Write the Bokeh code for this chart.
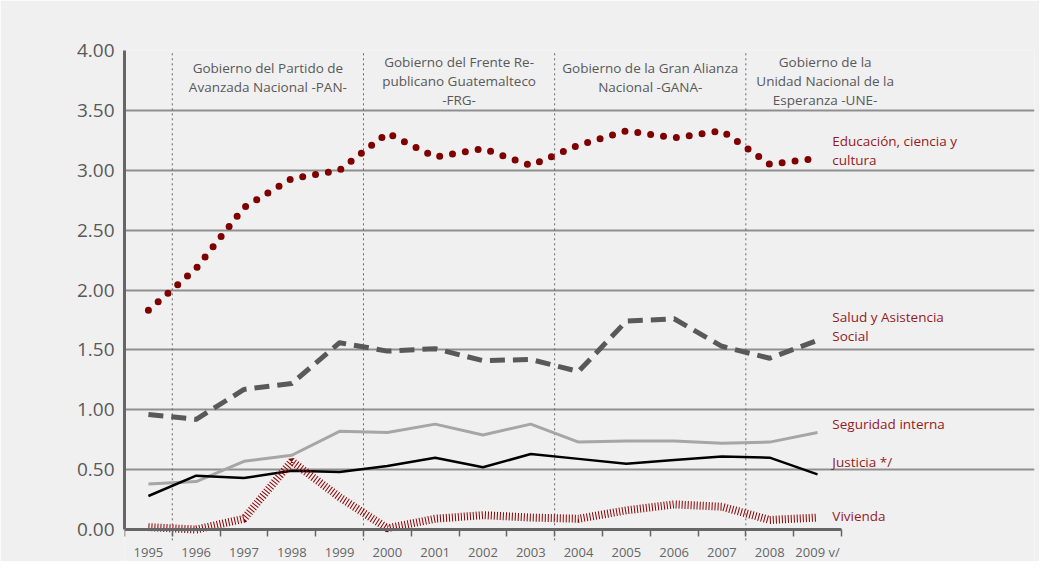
import numpy as np
from bokeh.plotting import figure
from bokeh.models import (Range1d, FixedTicker, NumeralTickFormatter, Label)
from bokeh.embed import file_html
from bokeh.resources import INLINE

# ---------------- data ----------------
years = ["1995", "1996", "1997", "1998", "1999", "2000", "2001", "2002",
         "2003", "2004", "2005", "2006", "2007", "2008", "2009 v/"]
educacion = [1.83, 2.18, 2.69, 2.93, 3.00, 3.31, 3.11, 3.18, 3.04, 3.21,
             3.33, 3.27, 3.33, 3.05, 3.10]
salud = [0.96, 0.92, 1.17, 1.22, 1.56, 1.49, 1.51, 1.41, 1.42, 1.32,
         1.74, 1.76, 1.53, 1.43, 1.58]
seguridad = [0.38, 0.40, 0.57, 0.62, 0.82, 0.81, 0.88, 0.79, 0.88, 0.73,
             0.74, 0.74, 0.72, 0.73, 0.81]
justicia = [0.28, 0.45, 0.43, 0.49, 0.48, 0.53, 0.60, 0.52, 0.63, 0.59,
            0.55, 0.58, 0.61, 0.60, 0.46]
vivienda = [0.02, 0.00, 0.09, 0.57, 0.27, 0.01, 0.09, 0.12, 0.10, 0.09,
            0.16, 0.21, 0.19, 0.08, 0.10]
y_ticks = [0.0, 0.5, 1.0, 1.5, 2.0, 2.5, 3.0, 3.5, 4.0]

# governments: first year of each period
gov_start = ["1996", "2000", "2004", "2008"]
gov_labels = [
    ["Gobierno del Partido de", "Avanzada Nacional -PAN-"],
    ["Gobierno del Frente Re-", "publicano Guatemalteco", "-FRG-"],
    ["Gobierno de la Gran Alianza", "Nacional -GANA-"],
    ["Gobierno de la", "Unidad Nacional de la", "Esperanza -UNE-"],
]
series_labels = [
    (["Educación, ciencia y", "cultura"], 3.165),
    (["Salud y Asistencia", "Social"], 1.695),
    (["Seguridad interna"], 0.88),
    (["Justicia */"], 0.56),
    (["Vivienda"], 0.11),
]

# ---------------- figure ----------------
BG = "#f0f0f0"
FONT = "Open Sans"
GRAY_TXT = "#595959"
RED_TXT = "#951b1e"

n = len(years)
xc = np.arange(n) + 0.5  # category centres
GRID_END = 16.32         # where the horizontal grid lines stop
X_END = 19.04            # right edge of the frame (room for labels)
Y_START = -0.267         # room below zero for the axis labels

p = figure(width=1039, height=561, output_backend="svg", toolbar_location=None,
           x_range=Range1d(0, X_END), y_range=Range1d(Y_START, 4.0),
           min_border_left=124, min_border_right=5, min_border_top=50,
           min_border_bottom=0)
p.background_fill_color = BG
p.border_fill_color = BG
p.outline_line_color = None

# grid
p.xgrid.visible = False
p.ygrid.ticker = FixedTicker(ticks=[t for t in y_ticks if t > 0])
p.ygrid.bounds = (0, GRID_END)
p.ygrid.grid_line_color = "#8f8f8f"
p.ygrid.grid_line_width = 2

# government separators (dotted, reaching slightly below the axis)
bounds_idx = [years.index(g) for g in gov_start]
p.segment(x0=bounds_idx, y0=[-0.09] * len(bounds_idx), x1=bounds_idx,
          y1=[4.0] * len(bounds_idx), line_color="#666666", line_width=1,
          line_dash="2 3")

# x axis
xa = p.xaxis[0]
xa.ticker = FixedTicker(ticks=list(xc), minor_ticks=list(range(n + 1)))
xa.major_label_overrides = {float(x): y for x, y in zip(xc, years)}
xa.bounds = (0, n)
xa.fixed_location = 0
xa.axis_line_color = "#666666"
xa.axis_line_width = 3
xa.major_tick_out = 0
xa.major_tick_in = 0
xa.minor_tick_out = 7
xa.minor_tick_in = 0
xa.minor_tick_line_color = "#666666"
xa.minor_tick_line_width = 1.5
xa.major_label_standoff = 6
xa.major_label_text_font = FONT
xa.major_label_text_font_size = "13px"
xa.major_label_text_color = "#666666"

# y axis
ya = p.yaxis[0]
ya.ticker = FixedTicker(ticks=y_ticks)
ya.formatter = NumeralTickFormatter(format="0.00")
ya.bounds = (0, 4)
ya.axis_line_color = "#666666"
ya.axis_line_width = 3
ya.major_tick_out = 0
ya.major_tick_in = 0
ya.minor_tick_line_color = None
ya.major_label_standoff = 10
ya.major_label_text_font = FONT
ya.major_label_text_font_size = "19px"
ya.major_label_text_color = GRAY_TXT

# government headers
edges = bounds_idx + [GRID_END]
header_y = {2: [3.85, 3.695], 3: [3.90, 3.745, 3.59]}
for i, lines in enumerate(gov_labels):
    cx = (edges[i] + edges[i + 1]) / 2
    ys = header_y[len(lines)]
    for txt, yy in zip(lines, ys):
        p.add_layout(Label(x=cx, y=yy, text=txt, text_align="center",
                           text_baseline="middle", text_font=FONT,
                           text_font_size="13.5px", text_color=GRAY_TXT))

# series
p.line(xc, seguridad, line_color="#a6a6a6", line_width=3)
p.line(xc, justicia, line_color="#000000", line_width=2.5)
p.line(xc, vivienda, line_color="#8b0000", line_width=8, line_dash="1 2")
p.line(xc, salud, line_color="#595959", line_width=5, line_dash="15 8",
       line_join="round")
p.line(xc, educacion, line_color="#7f0000", line_width=7, line_dash="0 13",
       line_cap="round", line_join="round")

# series labels on the right
lab_x = 14.81
for lines, yy in series_labels:
    k = len(lines)
    for j, txt in enumerate(lines):
        p.add_layout(Label(x=lab_x, y=yy + (k - 1) * 0.0765 - j * 0.153,
                           text=txt, text_align="left", text_baseline="middle",
                           text_font=FONT, text_font_size="13.5px",
                           text_color=RED_TXT))

open("out.html", "w").write(file_html(p, INLINE))
